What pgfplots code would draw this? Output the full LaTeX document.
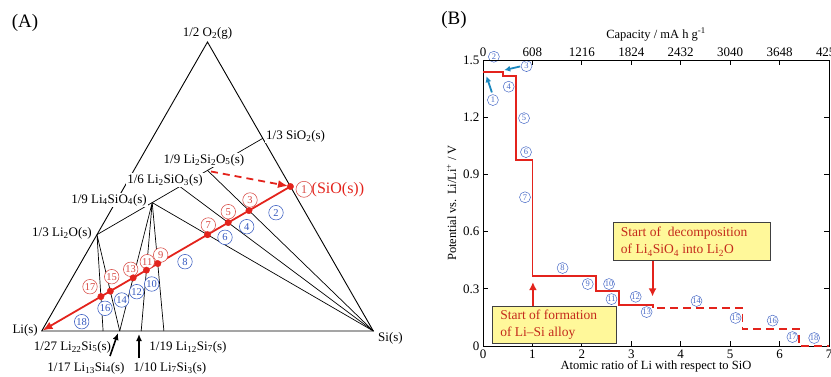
\documentclass[border=0pt]{standalone}
\usepackage{pgfplots}
\pgfplotsset{compat=1.18}
\usepackage{fontspec}
\setmainfont{Liberation Serif}
\usetikzlibrary{arrows.meta}
\definecolor{lred}{HTML}{E3231C}
\definecolor{cred}{HTML}{D84A44}
\definecolor{cblue}{HTML}{3458C0}
\definecolor{rblue}{HTML}{4A6CC8}
\definecolor{ablue}{HTML}{1B87BE}
\definecolor{boxyellow}{HTML}{FFF89A}
\definecolor{boxtext}{HTML}{C42A1C}
\newcommand{\s}[1]{\textsubscript{#1}}
\tikzset{
 rc/.style={circle, draw=cred, text=cred, fill=white, inner sep=0pt, minimum size=14.5pt, line width=0.55pt, font=\fontsize{10.5}{10.5}\selectfont},
 bc/.style={circle, draw=cblue, text=cblue, fill=white, inner sep=0pt, minimum size=14.5pt, line width=0.55pt, font=\fontsize{10.5}{10.5}\selectfont},
 sc/.style={circle, draw=rblue, text=rblue, fill=white, inner sep=0pt, minimum size=11pt, line width=0.5pt, font=\fontsize{8.5}{8.5}\selectfont},
 lab/.style={fill=white, inner sep=1pt, font=\fontsize{13}{15}\selectfont},
}
\pgfplotsset{/pgf/number format/assume math mode=true}
\begin{document}
\begin{tikzpicture}[x=1pt,y=1pt]
\useasboundingbox (0,0) rectangle (831,376);
\node[font=\fontsize{19}{22}\selectfont] at (25,353) {(A)};
\node[font=\fontsize{19}{22}\selectfont] at (454,356) {(B)};
% ---------------- (A) ternary diagram ----------------
\begin{axis}[at={(0pt,0pt)}, anchor=south west, scale only axis, width=420pt, height=376pt,
  xmin=0, xmax=420, ymin=0, ymax=376, hide axis, clip=false]
\addplot[black, line width=0.9pt] coordinates {(41.7,45) (373.3,45) (207.5,334) (41.7,45) (373.3,45)};
\addplot[black, line width=0.7pt] coordinates {(96.97,141.33) (152.2,173.4) (179.85,189.5) (207.5,205.6) (262.8,237.67)};
\addplot[black, line width=0.7pt] coordinates {(207.5,205.6) (373.3,45)};
\addplot[black, line width=0.7pt] coordinates {(179.85,189.5) (373.3,45)};
\addplot[black, line width=0.7pt] coordinates {(152.2,173.4) (373.3,45)};
\addplot[black, line width=0.7pt] coordinates {(103.1,45) (96.97,141.33) (119.7,45)};
\addplot[black, line width=0.7pt] coordinates {(119.7,45) (152.2,173.4) (141.2,45)};
\addplot[black, line width=0.7pt] coordinates {(152.2,173.4) (163.9,45)};
% labels
\node[lab, anchor=south] at (axis cs:207.5,335) {1/2 O\s{2}(g)};
\node[lab, anchor=west] at (axis cs:265,240) {1/3 SiO\s{2}(s)};
\node[lab] at (axis cs:204,216) {1/9 Li\s{2}Si\s{2}O\s{5}(s)};
\node[lab] at (axis cs:165,196) {1/6 Li\s{2}SiO\s{3}(s)};
\node[lab] at (axis cs:109,176) {1/9 Li\s{4}SiO\s{4}(s)};
\node[lab, anchor=east] at (axis cs:93,143) {1/3 Li\s{2}O(s)};
\node[lab, anchor=east] at (axis cs:39,46) {Li(s)};
\node[lab, anchor=west] at (axis cs:377,38) {Si(s)};
\node[lab] at (axis cs:72.5,29) {1/27 Li\s{22}Si\s{5}(s)};
\node[lab] at (axis cs:86,8) {1/17 Li\s{13}Si\s{4}(s)};
\node[lab] at (axis cs:170,8) {1/10 Li\s{7}Si\s{3}(s)};
\node[lab] at (axis cs:188,29) {1/19 Li\s{12}Si\s{7}(s)};
\draw[black, line width=1.6pt, -{Latex[length=7pt,width=6pt]}] (axis cs:110,20) -- (axis cs:118,43);
\draw[black, line width=1.6pt, -{Latex[length=7pt,width=6pt]}] (axis cs:139,18) -- (axis cs:139,42);
% red path
\addplot[lred, line width=1.8pt, -{Latex[length=10pt,width=8pt]}] coordinates {(290.4,189.5) (42.5,45.5)};
\addplot[lred, line width=1.8pt, dash pattern=on 7pt off 5pt, -{Latex[length=10pt,width=8pt]}] coordinates {(211,204.5) (288,190)};
\addplot[lred, only marks, mark=*, mark size=3.2pt] coordinates {(290.4,189.5) (248.95,165.42) (228.2,153.4) (207.5,141.33) (157.76,112.43) (146.42,105.84) (133.18,98.15) (110.31,84.86) (100.91,79.40)};
% circled numbers
\node[rc, minimum size=16pt, font=\fontsize{12}{12}\selectfont] at (axis cs:304,186.7) {1};
\node[anchor=west, text=lred, font=\fontsize{16}{18}\selectfont, inner sep=0pt] at (axis cs:311.5,186.7) {(SiO(s))};
\node[rc] at (axis cs:250,176) {3};
\node[rc] at (axis cs:228.3,164.3) {5};
\node[rc] at (axis cs:208.3,151) {7};
\node[rc] at (axis cs:160.7,121) {9};
\node[rc] at (axis cs:147.3,114.3) {11};
\node[rc] at (axis cs:130.7,106.7) {13};
\node[rc] at (axis cs:111.7,99.3) {15};
\node[rc] at (axis cs:90,89.3) {17};
\node[bc] at (axis cs:276,163.3) {2};
\node[bc] at (axis cs:246.7,149.3) {4};
\node[bc] at (axis cs:225,138.7) {6};
\node[bc] at (axis cs:185,114.3) {8};
\node[bc] at (axis cs:151.7,92) {10};
\node[bc] at (axis cs:136.7,84.3) {12};
\node[bc] at (axis cs:121.7,76) {14};
\node[bc] at (axis cs:105,67.7) {16};
\node[bc] at (axis cs:81.7,54.3) {18};
\end{axis}
% ---------------- (B) potential profile ----------------
\begin{axis}[at={(483pt,30pt)}, anchor=south west, scale only axis, width=346pt, height=286pt,
  xmin=0, xmax=7, ymin=0, ymax=1.5, clip=false,
  xtick={0,1,2,3,4,5,6,7}, xticklabels={0,1,2,3,4,5,6,7},
  ytick={0,0.3,0.6,0.9,1.2,1.5}, yticklabels={0,0.3,0.6,0.9,1.2,1.5},
  tick align=inside, major tick length=5pt, axis line style={line width=0.9pt}, tick style={line width=0.8pt, black},
  ticklabel style={font=\fontsize{13}{15}\selectfont},
  label style={font=\fontsize{12.5}{14}\selectfont},
  xlabel={Atomic ratio of Li with respect to SiO},
  ylabel={Potential vs. Li/Li\textsuperscript{+} / V},
  xlabel style={yshift=4pt}, ylabel style={yshift=0pt}]
\addplot[lred, line width=1.8pt] coordinates {(0,1.437) (0.4,1.437) (0.4,1.414) (0.667,1.414) (0.667,0.977) (1,0.977) (1,0.367) (2.286,0.367) (2.286,0.288) (2.75,0.288) (2.75,0.215) (3.44,0.215) (3.44,0.199)};
\addplot[lred, line width=1.8pt, dash pattern=on 8pt off 5pt, dash phase=-4pt] coordinates {(3.44,0.199) (5.25,0.199) (5.25,0.091) (6.4,0.091) (6.4,0) (7,0)};
% annotations
\draw[ablue, line width=1.8pt, -{Latex[length=6pt,width=6pt]}] (axis cs:0.18,1.33) -- (axis cs:0.07,1.415);
\draw[ablue, line width=1.8pt, -{Latex[length=6pt,width=6pt]}] (axis cs:0.75,1.466) -- (axis cs:0.43,1.447);
\node[sc] at (axis cs:0.20,1.29) {1};
\node[sc] at (axis cs:0.22,1.517) {2};
\node[sc] at (axis cs:0.88,1.468) {3};
\node[sc] at (axis cs:0.52,1.36) {4};
\node[sc] at (axis cs:0.83,1.195) {5};
\node[sc] at (axis cs:0.87,1.017) {6};
\node[sc] at (axis cs:0.85,0.78) {7};
\node[sc] at (axis cs:1.61,0.409) {8};
\node[sc] at (axis cs:2.12,0.325) {9};
\node[sc] at (axis cs:2.55,0.325) {10};
\node[sc] at (axis cs:2.60,0.246) {11};
\node[sc] at (axis cs:3.09,0.258) {12};
\node[sc] at (axis cs:3.31,0.178) {13};
\node[sc] at (axis cs:4.32,0.236) {14};
\node[sc] at (axis cs:5.11,0.147) {15};
\node[sc] at (axis cs:5.86,0.133) {16};
\node[sc] at (axis cs:6.26,0.047) {17};
\node[sc] at (axis cs:6.70,0.042) {18};
\draw[black!75, fill=boxyellow, line width=0.8pt] (axis cs:0.18,0.016) rectangle (axis cs:2.69,0.21);
\node[anchor=west, align=left, text=boxtext, font=\fontsize{13.5}{17}\selectfont] at (axis cs:0.28,0.113) {Start of formation\\of Li--Si alloy};
\draw[black!75, fill=boxyellow, line width=0.8pt] (axis cs:2.63,0.447) rectangle (axis cs:5.82,0.647);
\node[anchor=west, align=left, text=boxtext, font=\fontsize{13.5}{17}\selectfont] at (axis cs:2.72,0.547) {Start of~~decomposition\\of Li\s{4}SiO\s{4} into Li\s{2}O};
\draw[lred, line width=2pt, -{Latex[length=8pt,width=8pt]}] (axis cs:1.01,0.21) -- (axis cs:1.01,0.335);
\draw[lred, line width=2pt, -{Latex[length=8pt,width=8pt]}] (axis cs:3.43,0.447) -- (axis cs:3.43,0.26);
\end{axis}
\begin{axis}[at={(483pt,30pt)}, anchor=south west, scale only axis, width=346pt, height=286pt,
  xmin=0, xmax=7, ymin=0, ymax=1.5, axis x line*=top, axis y line=none,
  xtick={0,1,2,3,4,5,6,7}, xticklabels={0,608,1216,1824,2432,3040,3648,4256},
  tick align=inside, major tick length=5pt, axis line style={line width=0.9pt}, tick style={line width=0.8pt, black},
  ticklabel style={font=\fontsize{13}{15}\selectfont},
  label style={font=\fontsize{12.5}{14}\selectfont},
  xlabel={Capacity / mA h g\textsuperscript{-1}}]
\addplot[draw=none] coordinates {(0,0) (7,1.5)};
\end{axis}
\end{tikzpicture}
\end{document}
